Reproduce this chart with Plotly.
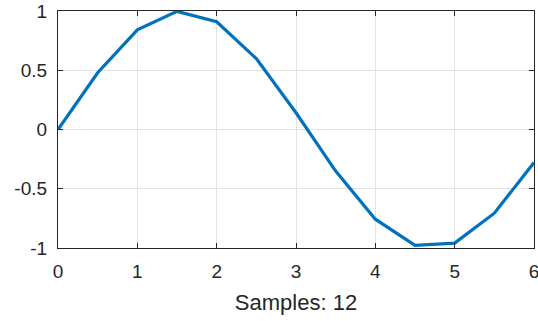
import plotly.graph_objects as go

x_vals = [0, 0.5, 1, 1.5, 2, 2.5, 3, 3.5, 4, 4.5, 5, 5.5, 6]
y_vals = [0, 0.479, 0.841, 0.997, 0.909, 0.598, 0.141, -0.351, -0.757, -0.978, -0.959, -0.706, -0.279]
x_ticks = [0, 1, 2, 3, 4, 5, 6]
y_ticks = [-1, -0.5, 0, 0.5, 1]
y_tick_text = ["-1", "-0.5", "0", "0.5", "1"]
x_label = "Samples: 12"

fig = go.Figure()
fig.add_trace(go.Scatter(x=x_vals, y=y_vals, mode="lines",
                         line=dict(color="#0072BD", width=3.2), cliponaxis=True))

axis_common = dict(
    showline=True, linecolor="#262626", linewidth=1.2, mirror="ticks",
    ticks="inside", ticklen=5, tickcolor="#262626", tickwidth=1,
    showgrid=True, gridcolor="#e3e3e3", gridwidth=1, zeroline=False,
    automargin=False, ticklabeloverflow="allow",
    tickfont=dict(family="Liberation Sans, Arial", size=19, color="#262626"),
)

fig.update_xaxes(range=[0, 6], tickvals=x_ticks, ticktext=[str(v) for v in x_ticks],
                 title=dict(text=x_label, standoff=13,
                            font=dict(family="Liberation Sans, Arial", size=22, color="#262626")),
                 ticklabelstandoff=6, **axis_common)
fig.update_yaxes(range=[-1, 1], tickvals=y_ticks, ticktext=y_tick_text,
                 ticklabelstandoff=6, **axis_common)

fig.update_layout(width=538, height=321, margin=dict(l=58, r=4, t=11, b=73),
                  plot_bgcolor="white", paper_bgcolor="white", showlegend=False)

fig.write_html("out.html", config={"displayModeBar": False},
               post_script="document.body.style.margin='0';document.body.style.overflow='hidden';")
